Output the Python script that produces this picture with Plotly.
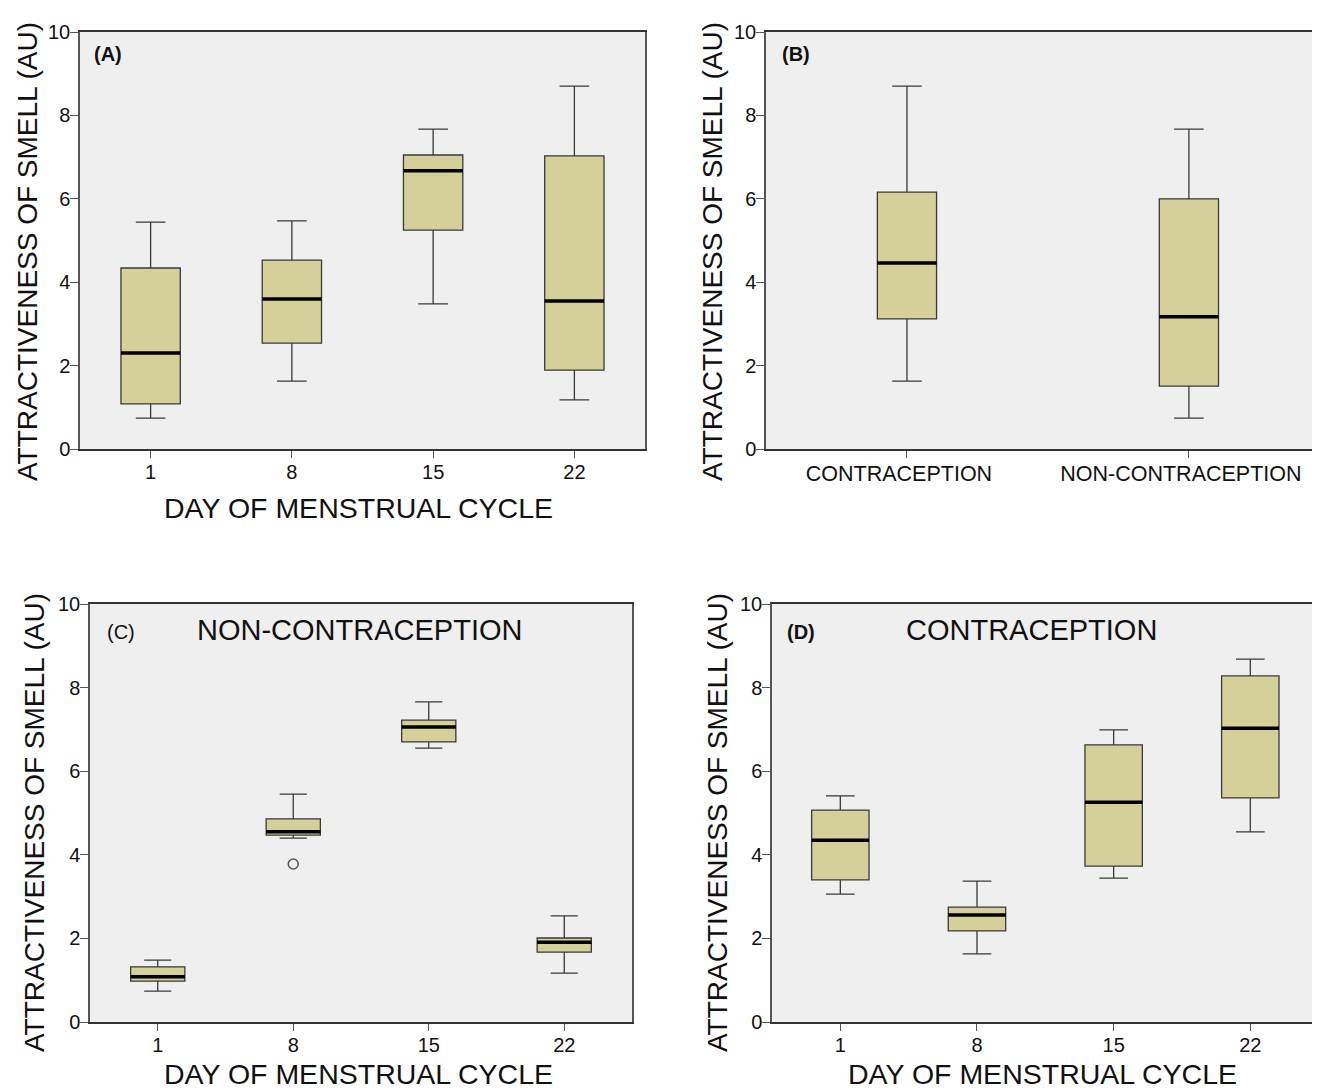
import plotly.graph_objects as go

# ---------------- data ----------------
days = ["1", "8", "15", "22"]
groups = ["CONTRACEPTION", "NON-CONTRACEPTION"]

# Panel A: all subjects by day
a_low = [0.74, 1.63, 3.48, 1.18]
a_q1 = [1.08, 2.54, 5.25, 1.89]
a_med = [2.30, 3.60, 6.67, 3.55]
a_q3 = [4.34, 4.53, 7.05, 7.03]
a_high = [5.44, 5.47, 7.67, 8.70]

# Panel B: by contraception group
b_low = [1.63, 0.74]
b_q1 = [3.12, 1.51]
b_med = [4.46, 3.17]
b_q3 = [6.16, 6.00]
b_high = [8.70, 7.67]

# Panel C: non-contraception by day
c_low = [0.74, 4.40, 6.55, 1.17]
c_q1 = [0.98, 4.47, 6.70, 1.67]
c_med = [1.08, 4.55, 7.06, 1.91]
c_q3 = [1.32, 4.86, 7.22, 2.01]
c_high = [1.48, 5.45, 7.66, 2.54]
c_outlier_day = ["8"]
c_outlier_val = [3.78]

# Panel D: contraception by day
d_low = [3.06, 1.63, 3.44, 4.55]
d_q1 = [3.40, 2.18, 3.73, 5.36]
d_med = [4.35, 2.56, 5.26, 7.03]
d_q3 = [5.07, 2.75, 6.63, 8.28]
d_high = [5.41, 3.37, 6.99, 8.68]

# ---------------- style ----------------
OFF = 8  # default page body margin
W, H = 1320 - OFF, 1090 - OFF
FONT = "Liberation Sans, Arial, Helvetica, sans-serif"
BOX_FILL = "#d5d099"
BOX_LINE = "#3a3a3a"
BG = "#efefef"
AXIS = "#555555"

fig = go.Figure()


def add_panel(xa, ya, cats, low, q1, med, q3, high, width):
    xs = list(range(len(cats)))
    fig.add_trace(go.Box(
        x=xs, q1=q1, median=med, q3=q3, lowerfence=low, upperfence=high,
        width=width, whiskerwidth=0.5, fillcolor=BOX_FILL,
        line=dict(color=BOX_LINE, width=1.3), boxpoints=False,
        xaxis=xa, yaxis=ya, showlegend=False, hoverinfo="skip"))
    # thick black median line
    fig.add_trace(go.Box(
        x=xs, q1=med, median=med, q3=med, lowerfence=med, upperfence=med,
        width=width, whiskerwidth=1, fillcolor="black",
        line=dict(color="black", width=3.5), boxpoints=False,
        xaxis=xa, yaxis=ya, showlegend=False, hoverinfo="skip"))


add_panel("x", "y", days, a_low, a_q1, a_med, a_q3, a_high, 0.42)
add_panel("x2", "y2", groups, b_low, b_q1, b_med, b_q3, b_high, 0.21)
add_panel("x3", "y3", days, c_low, c_q1, c_med, c_q3, c_high, 0.40)
add_panel("x4", "y4", days, d_low, d_q1, d_med, d_q3, d_high, 0.42)

fig.add_trace(go.Scatter(
    x=[days.index(d) for d in c_outlier_day], y=c_outlier_val, mode="markers",
    marker=dict(symbol="circle-open", size=10, color="#555555", line=dict(width=1.5)),
    xaxis="x3", yaxis="y3", showlegend=False, hoverinfo="skip"))


def px_x(p):
    return (p - OFF) / W


def px_y(p):
    return 1 - (p - OFF) / H


def xaxis(dom, cats, rng, anchor, size=20, shift=0):
    return dict(domain=dom, range=rng, tickmode="array", anchor=anchor,
                tickvals=list(range(len(cats))), ticktext=cats,
                showline=True, linecolor="#333333", linewidth=2, mirror=True,
                ticks="outside", ticklen=7, tickwidth=1.2, tickcolor=AXIS,
                ticklabelstandoff=-3, ticklabelshift=shift,
                showgrid=False, zeroline=False, automargin=False,
                tickfont=dict(family=FONT, size=size, color="#111"))


def yaxis(dom, anchor, mirror=True):
    return dict(domain=dom, range=[0, 10], tickvals=[0, 2, 4, 6, 8, 10],
                anchor=anchor,
                showline=True, linecolor=AXIS, linewidth=1.5, mirror=mirror,
                ticks="outside", ticklen=8, tickwidth=1.2, tickcolor=AXIS,
                ticklabelstandoff=-4,
                showgrid=False, zeroline=False, automargin=False,
                tickfont=dict(family=FONT, size=20, color="#111"))


top = [px_y(449), px_y(32)]
bot = [px_y(1022), px_y(604)]

fig.update_layout(
    width=W, height=H, margin=dict(l=0, r=0, t=0, b=0, autoexpand=False),
    paper_bgcolor="white", plot_bgcolor=BG, boxmode="overlay",
    xaxis=xaxis([px_x(80), px_x(645)], days, [-0.5, 3.5], "y"),
    yaxis=yaxis(top, "x"),
    xaxis2=xaxis([px_x(766), 1.0], groups, [-0.5, 1.465], "y2", size=21.5, shift=-8),
    yaxis2=yaxis(top, "x2", mirror=False),
    xaxis3=xaxis([px_x(90), px_x(632)], days, [-0.5, 3.5], "y3"),
    yaxis3=yaxis(bot, "x3"),
    xaxis4=xaxis([px_x(772), 1.0], days, [-0.5, 3.51], "y4"),
    yaxis4=yaxis(bot, "x4", mirror=False),
)

ann = []
ytitle = "ATTRACTIVENESS OF SMELL (AU)"
for xc, yc in [(28, 252), (713, 252), (34, 823), (717, 823)]:
    ann.append(dict(text=ytitle, xref="paper", yref="paper", x=px_x(xc), y=px_y(yc),
                    textangle=-90, showarrow=False, xanchor="center", yanchor="middle",
                    font=dict(family=FONT, size=28, color="#111")))
xtitle = "DAY OF MENSTRUAL CYCLE"
for xc, yc in [(358, 508), (358, 1074), (1042, 1074)]:
    ann.append(dict(text=xtitle, xref="paper", yref="paper", x=px_x(xc), y=px_y(yc),
                    showarrow=False, xanchor="center", yanchor="middle",
                    font=dict(family=FONT, size=28.5, color="#111")))
for txt, xc, yc in [("<b>(A)</b>", 108, 54), ("<b>(B)</b>", 796, 54),
                    ("(C)", 121, 632), ("<b>(D)</b>", 801, 632)]:
    ann.append(dict(text=txt, xref="paper", yref="paper", x=px_x(xc), y=px_y(yc),
                    showarrow=False, xanchor="center", yanchor="middle",
                    font=dict(family=FONT, size=20, color="#111")))
for txt, xc in [("NON-CONTRACEPTION", 359), ("CONTRACEPTION", 1031)]:
    ann.append(dict(text=txt, xref="paper", yref="paper", x=px_x(xc), y=px_y(630),
                    showarrow=False, xanchor="center", yanchor="middle",
                    font=dict(family=FONT, size=29, color="#111")))
fig.update_layout(annotations=ann)

fig.write_html("out.html")
